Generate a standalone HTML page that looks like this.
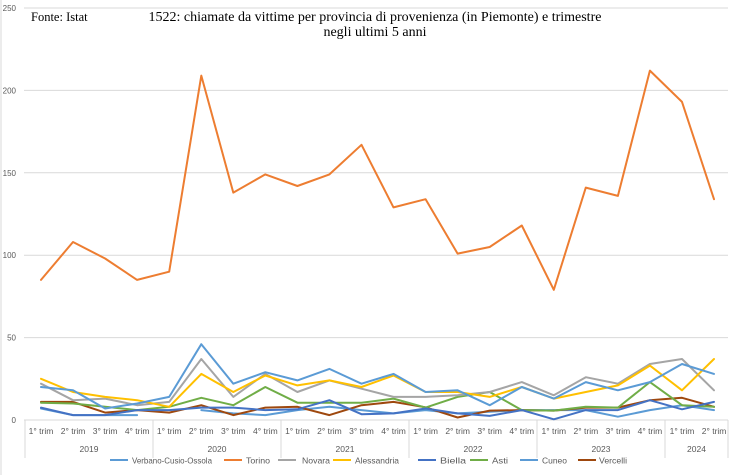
<!DOCTYPE html>
<html><head><meta charset="utf-8"><style>
body{margin:0;background:#fff;}
svg{display:block;font-family:"Liberation Sans",sans-serif;}
</style></head><body>
<svg id="c" width="731" height="475" viewBox="0 0 731 475" xmlns="http://www.w3.org/2000/svg">
<rect width="731" height="475" fill="#fff"/>
<line x1="1" x2="1" y1="0" y2="475" stroke="#d9d9d9"/>
<g id="g"></g>
<text x="31" y="21" font-family="Liberation Serif,serif" font-size="12.5" fill="#000">Fonte: Istat</text>
<text x="375" y="21" text-anchor="middle" font-family="Liberation Serif,serif" font-size="14" fill="#000">1522: chiamate da vittime per provincia di provenienza (in Piemonte) e trimestre</text>
<text x="375" y="36" text-anchor="middle" font-family="Liberation Serif,serif" font-size="14" fill="#000">negli ultimi 5 anni</text>
</svg>
<script>
var g=document.getElementById('g'),h='';
function Y(v){return 420-v*1.648;}
function X(i){return 41+i*32.05;}
for(var v=0;v<=250;v+=50){h+='<line x1="24" x2="728" y1="'+Y(v)+'" y2="'+Y(v)+'" stroke="#d9d9d9" stroke-width="1"/>';
h+='<text x="16" y="'+(Y(v)+3)+'" text-anchor="end" font-size="8" fill="#595959">'+v+'</text>';}
var seps=[25,153,281,409,537,665,728];
seps.forEach(function(x){h+='<line x1="'+x+'" x2="'+x+'" y1="420" y2="458" stroke="#d9d9d9"/>';});
var tr=['1° trim','2° trim','3° trim','4° trim'];
for(var i=0;i<22;i++){h+='<text x="'+X(i)+'" y="434" text-anchor="middle" font-size="8.5" fill="#595959">'+tr[i%4]+'</text>';}
var yrs=['2019','2020','2021','2022','2023','2024'];
for(var k=0;k<6;k++){h+='<text x="'+((seps[k]+seps[k+1])/2)+'" y="452" text-anchor="middle" font-size="8.5" fill="#595959">'+yrs[k]+'</text>';}
var S=[
['Cuneo','#5b9bd5',[7,3,3,3,null,6,4,3,6,8,6,4,6,4,5,6,6,6,2,6,9,6]],
['Vercelli','#9e480e',[11,11,4.5,6,4.5,9,3,7.5,8,3,9,11,7.7,1.5,5.7,6,5.7,7.5,7.5,12,13.5,8]],
['Asti','#70ad47',[10.5,10,8,6,8,13.5,9,20,10.5,10.5,10.5,13,7.5,14,17,6,5.7,8,7.5,23,9,8]],
['Biella','#4472c4',[7.5,3,3,6,6,7.5,7.5,6,6.5,12,3.5,4,7,4,2.5,6,0.4,6,6,12,6.5,11]],
['Novara','#a5a5a5',[22,12,13,9,11,37,14,28,17,24,19,14,14,15,17,23,15,26,22,34,37,18]],
['Alessandria','#ffc000',[25,17,14,12,8,28,17,27,21,24,20,27,17,17,14,20,13,17,21,33,18,37]],
['VCO','#5b9bd5',[20,18,7,10,14,46,22,29,24,31,22,28,17,18,9,20,13,23,18,23,34,28]],
['Torino','#ed7d31',[85,108,98,85,90,209,138,149,142,149,167,129,134,101,105,118,79,141,136,212,193,134]]
];
S.forEach(function(s){var segs=[],cur=[];s[2].forEach(function(v,i){if(v===null){if(cur.length)segs.push(cur);cur=[];}else cur.push(X(i).toFixed(1)+','+Y(v).toFixed(1));});if(cur.length)segs.push(cur);
segs.forEach(function(p){h+='<polyline points="'+p.join(' ')+'" fill="none" stroke="'+s[1]+'" stroke-width="2" stroke-linejoin="round" stroke-linecap="round"/>';});});
var L=[['Verbano-Cusio-Ossola','#5b9bd5',110,132,80],['Torino','#ed7d31',224,246,24],['Novara','#a5a5a5',278,302,28],['Alessandria','#ffc000',333,355,44],['Biella','#4472c4',418,440,26],['Asti','#70ad47',470,492,16],['Cuneo','#5b9bd5',520,542,25],['Vercelli','#9e480e',578,599,28]];
L.forEach(function(l){h+='<line x1="'+l[2]+'" x2="'+(l[2]+18)+'" y1="460" y2="460" stroke="'+l[1]+'" stroke-width="2"/>';
h+='<text x="'+l[3]+'" y="463.5" font-size="8.5" fill="#595959" textLength="'+l[4]+'" lengthAdjust="spacingAndGlyphs">'+l[0]+'</text>';});
g.innerHTML=h;
</script>
</body></html>
